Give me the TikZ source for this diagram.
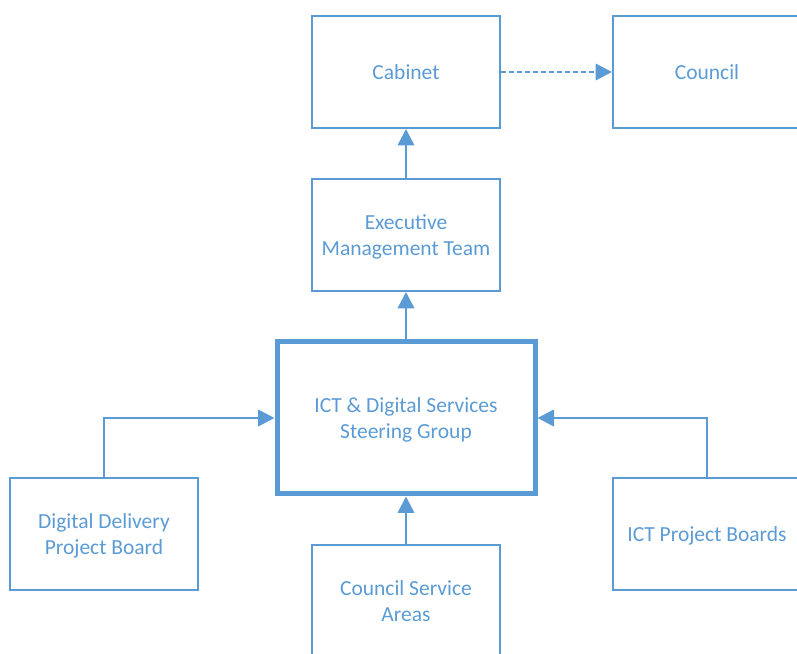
\documentclass[tikz,border=0pt]{standalone}
\usepackage{fontspec}
\setmainfont{Carlito}
\usetikzlibrary{arrows.meta}
\definecolor{officeblue}{RGB}{91,155,213}
\tikzset{
  box/.style={draw=officeblue,line width=2pt,minimum width=188pt,minimum height=112pt,
    align=center,text=officeblue,font=\fontsize{21.5}{26}\selectfont,inner sep=0pt,
    text depth=-2pt},
  bigbox/.style={box,line width=5pt,minimum width=258pt,minimum height=152pt},
  arr/.style={draw=officeblue,line width=2.6pt,-{Triangle[length=16.5pt,width=16.5pt]}}
}
\begin{document}
\begin{tikzpicture}[x=1pt,y=1pt]
\useasboundingbox (0,0) rectangle (797,653);
\clip (0,0) rectangle (797,653);
\node[box] (cabinet) at (406,581) {Cabinet};
\node[box] (council) at (707,581) {Council};
\node[box] (emt) at (406,418) {Executive\\Management Team};
\node[bigbox] (steer) at (406,235) {ICT \& Digital Services\\Steering Group};
\node[box] (ddpb) at (104,119) {Digital Delivery\\Project Board};
\node[box] (csa) at (406,52) {Council Service\\Areas};
\node[box] (ictpb) at (707,119) {ICT Project Boards};
\draw[arr,dash pattern=on 5pt off 3pt] (cabinet) -- (council);
\draw[arr] (emt) -- (cabinet);
\draw[arr] (steer) -- (emt);
\draw[arr] (csa) -- (steer);
\draw[arr] (ddpb.north) |- (steer.west);
\draw[arr] (ictpb.north) |- (steer.east);
\end{tikzpicture}
\end{document}
